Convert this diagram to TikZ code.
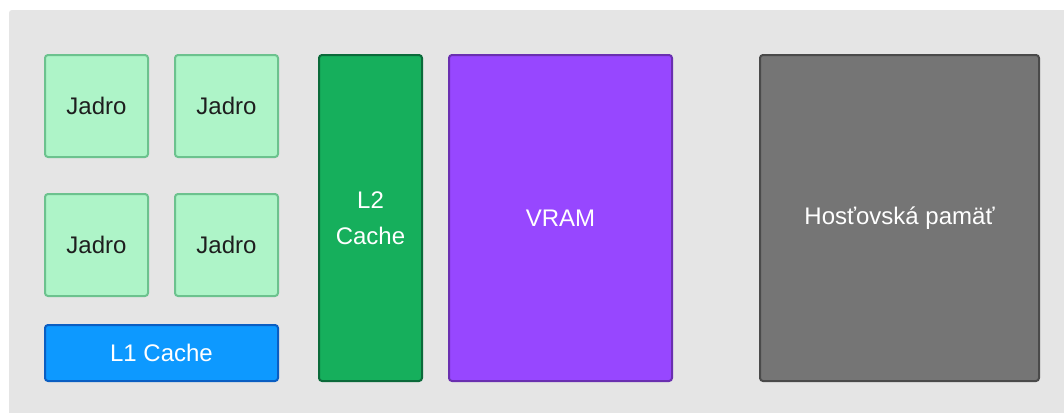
\documentclass[tikz,border=0pt]{standalone}
\usepackage{fontspec}
\setmainfont{Liberation Sans}
\definecolor{panel}{HTML}{E5E5E5}
\definecolor{corefill}{HTML}{AEF4C8}
\definecolor{coreline}{HTML}{6CC28E}
\definecolor{lonefill}{HTML}{0D99FF}
\definecolor{loneline}{HTML}{0A5EC2}
\definecolor{ltwofill}{HTML}{16AF5C}
\definecolor{ltwoline}{HTML}{0B6A3A}
\definecolor{vramfill}{HTML}{9747FF}
\definecolor{vramline}{HTML}{6A2FB0}
\definecolor{hostfill}{HTML}{757575}
\definecolor{hostline}{HTML}{4A4A4A}
\definecolor{inkdark}{HTML}{1E1E1E}
% one unit = one pixel of a 1064 x 412 canvas
\tikzset{
  block/.style={rectangle, rounded corners=2.25pt, line width=1.5pt, inner sep=0pt,
    font=\fontsize{18pt}{27pt}\selectfont, align=center},
  core/.style={block, fill=corefill, draw=coreline, text=inkdark,
    minimum width=77.25pt, minimum height=76.5pt},
  lone/.style={block, fill=lonefill, draw=loneline, text=white},
  ltwo/.style={block, fill=ltwofill, draw=ltwoline, text=white},
  vram/.style={block, fill=vramfill, draw=vramline, text=white},
  host/.style={block, fill=hostfill, draw=hostline, text=white},
}
\begin{document}
\begin{tikzpicture}[x=0.75pt, y=-0.75pt]
  \useasboundingbox (0,0) rectangle (1064,412);
  \fill[white] (0,0) rectangle (1064,412);
  \fill[panel, rounded corners=2.25pt] (9,10) rectangle (1070,420);
  % processor cores
  \node[core] (c1) at (96.5,106) {Jadro};
  \node[core] (c2) at (226.5,106) {Jadro};
  \node[core] (c3) at (96.5,245) {Jadro};
  \node[core] (c4) at (226.5,245) {Jadro};
  % caches and memories
  \node[lone, minimum width=174.75pt, minimum height=42pt] (l1) at (161.5,353) {L1 Cache};
  \node[ltwo, minimum width=77.25pt, minimum height=244.5pt] (l2) at (370.5,218) {L2\\Cache};
  \node[vram, minimum width=167.25pt, minimum height=244.5pt] (vram) at (560.5,218) {VRAM};
  \node[host, minimum width=209.25pt, minimum height=244.5pt] (host) at (899.5,218) {Hosťovská pamäť};
\end{tikzpicture}
\end{document}
